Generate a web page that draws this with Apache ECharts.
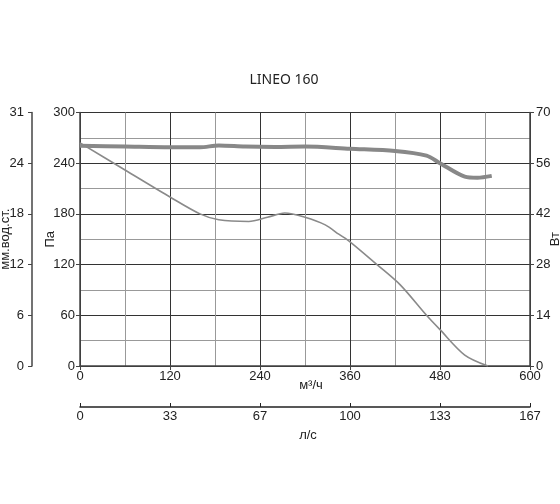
<!DOCTYPE html>
<html>
<head>
<meta charset="utf-8">
<script src="https://cdn.jsdelivr.net/npm/echarts@6/dist/echarts.min.js"></script>
<style>
html, body { margin: 0; padding: 0; background: #fff; }
#chart { width: 560px; height: 504px; }
</style>
</head>
<body>
<div id="chart"></div>
<script>
// расход м3/ч -> давление Па
var pressureCurve = [
    [0, 264], [60, 232], [120, 200], [160, 180], [185, 173], [225, 171],
    [250, 176], [273, 181], [300, 176], [327, 167], [345, 156], [360, 147],
    [396, 120], [427, 96], [462, 60], [480, 43], [513, 13], [544, 0]
];
// расход м3/ч -> мощность Вт
var powerCurve = [
    [0, 60.8], [60, 60.6], [120, 60.4], [160, 60.4], [185, 60.9], [220, 60.6],
    [260, 60.5], [300, 60.6], [360, 60], [420, 59.4], [462, 58.1], [480, 56],
    [513, 52.3], [530, 52], [549, 52.5]
];
var mmLabels = ['0', '6', '12', '18', '24', '31'];
var lsLabels = ['0', '33', '67', '100', '133', '167'];

var font = 'Liberation Sans';
var labelStyle = { color: '#222', fontSize: 13, fontFamily: font };
var darkLine = '#333';
var greyLine = '#999';

var option = {
    animation: false,
    title: {
        text: 'LINEO 160',
        left: 279,
        top: 68,
        textAlign: 'center',
        textStyle: { fontFamily: 'Noto Sans', fontWeight: 'normal', fontSize: 14, color: '#222' }
    },
    grid: { left: 80, right: 30, top: 112.5, bottom: 138, containLabel: false, outerBoundsMode: 'none' },
    xAxis: [
        {
            type: 'value', min: 0, max: 600, interval: 120,
            name: 'м³/ч', nameLocation: 'middle', nameGap: 12.5, nameMoveOverlap: false,
            nameTextStyle: Object.assign({ padding: [0, 0, 0, 12] }, labelStyle),
            axisLine: { onZero: false, lineStyle: { color: '#444', width: 1.5 } },
            axisTick: { length: 4, lineStyle: { color: '#444' } },
            axisLabel: Object.assign({ margin: 4 }, labelStyle),
            splitLine: { show: true, lineStyle: { color: darkLine, width: 1 } },
            minorTick: { show: false, splitNumber: 2 },
            minorSplitLine: { show: true, lineStyle: { color: greyLine, width: 1 } }
        },
        {
            type: 'value', min: 0, max: 600, interval: 120,
            position: 'bottom', offset: 41,
            name: 'л/с', nameLocation: 'middle', nameGap: 21.5, nameMoveOverlap: false,
            nameTextStyle: Object.assign({ padding: [0, 0, 0, 6] }, labelStyle),
            axisLine: { show: true, onZero: false, lineStyle: { color: '#222', width: 1.5 } },
            axisTick: { show: true, inside: true, length: 4, lineStyle: { color: '#222' } },
            axisLabel: Object.assign({ margin: 3, formatter: function (v) { return lsLabels[v / 120]; } }, labelStyle),
            splitLine: { show: false }
        }
    ],
    yAxis: [
        {
            type: 'value', min: 0, max: 300, interval: 60,
            name: 'Па', nameLocation: 'middle', nameGap: 23.5, nameRotate: 90, nameMoveOverlap: false,
            nameTextStyle: labelStyle,
            axisLine: { show: true, onZero: false, lineStyle: { color: '#444', width: 1.5 } },
            axisTick: { show: true, length: 4, lineStyle: { color: '#444' } },
            axisLabel: Object.assign({ margin: 5 }, labelStyle),
            splitLine: { show: true, lineStyle: { color: darkLine, width: 1 } },
            minorTick: { show: false, splitNumber: 2 },
            minorSplitLine: { show: true, lineStyle: { color: greyLine, width: 1 } }
        },
        {
            type: 'value', min: 0, max: 300, interval: 60,
            position: 'left', offset: 48,
            name: 'мм.вод.ст.', nameLocation: 'middle', nameGap: 20.5, nameRotate: 90, nameMoveOverlap: false,
            nameTextStyle: labelStyle,
            axisLine: { show: true, onZero: false, lineStyle: { color: '#444', width: 1.5 } },
            axisTick: { show: true, length: 4, lineStyle: { color: '#444' } },
            axisLabel: Object.assign({ margin: 8, formatter: function (v) { return mmLabels[v / 60]; } }, labelStyle),
            splitLine: { show: false }
        },
        {
            type: 'value', min: 0, max: 70, interval: 14,
            position: 'right',
            name: 'Вт', nameLocation: 'middle', nameGap: 18.5, nameRotate: 90, nameMoveOverlap: false,
            nameTextStyle: labelStyle,
            axisLine: { show: true, onZero: false, lineStyle: { color: '#444', width: 1.5 } },
            axisTick: { show: true, length: 4, lineStyle: { color: '#444' } },
            axisLabel: Object.assign({ margin: 6 }, labelStyle),
            splitLine: { show: false }
        }
    ],
    series: [
        {
            name: 'Па', type: 'line', xAxisIndex: 0, yAxisIndex: 0,
            data: pressureCurve, smooth: 0.3, symbol: 'none',
            lineStyle: { color: '#8a8a8a', width: 1.6 }
        },
        {
            name: 'Вт', type: 'line', xAxisIndex: 0, yAxisIndex: 2,
            data: powerCurve, smooth: 0.3, symbol: 'none',
            lineStyle: { color: '#888', width: 4 }
        }
    ]
};

var myChart = echarts.init(document.getElementById('chart'));
myChart.setOption(option, true);
</script>
</body>
</html>
